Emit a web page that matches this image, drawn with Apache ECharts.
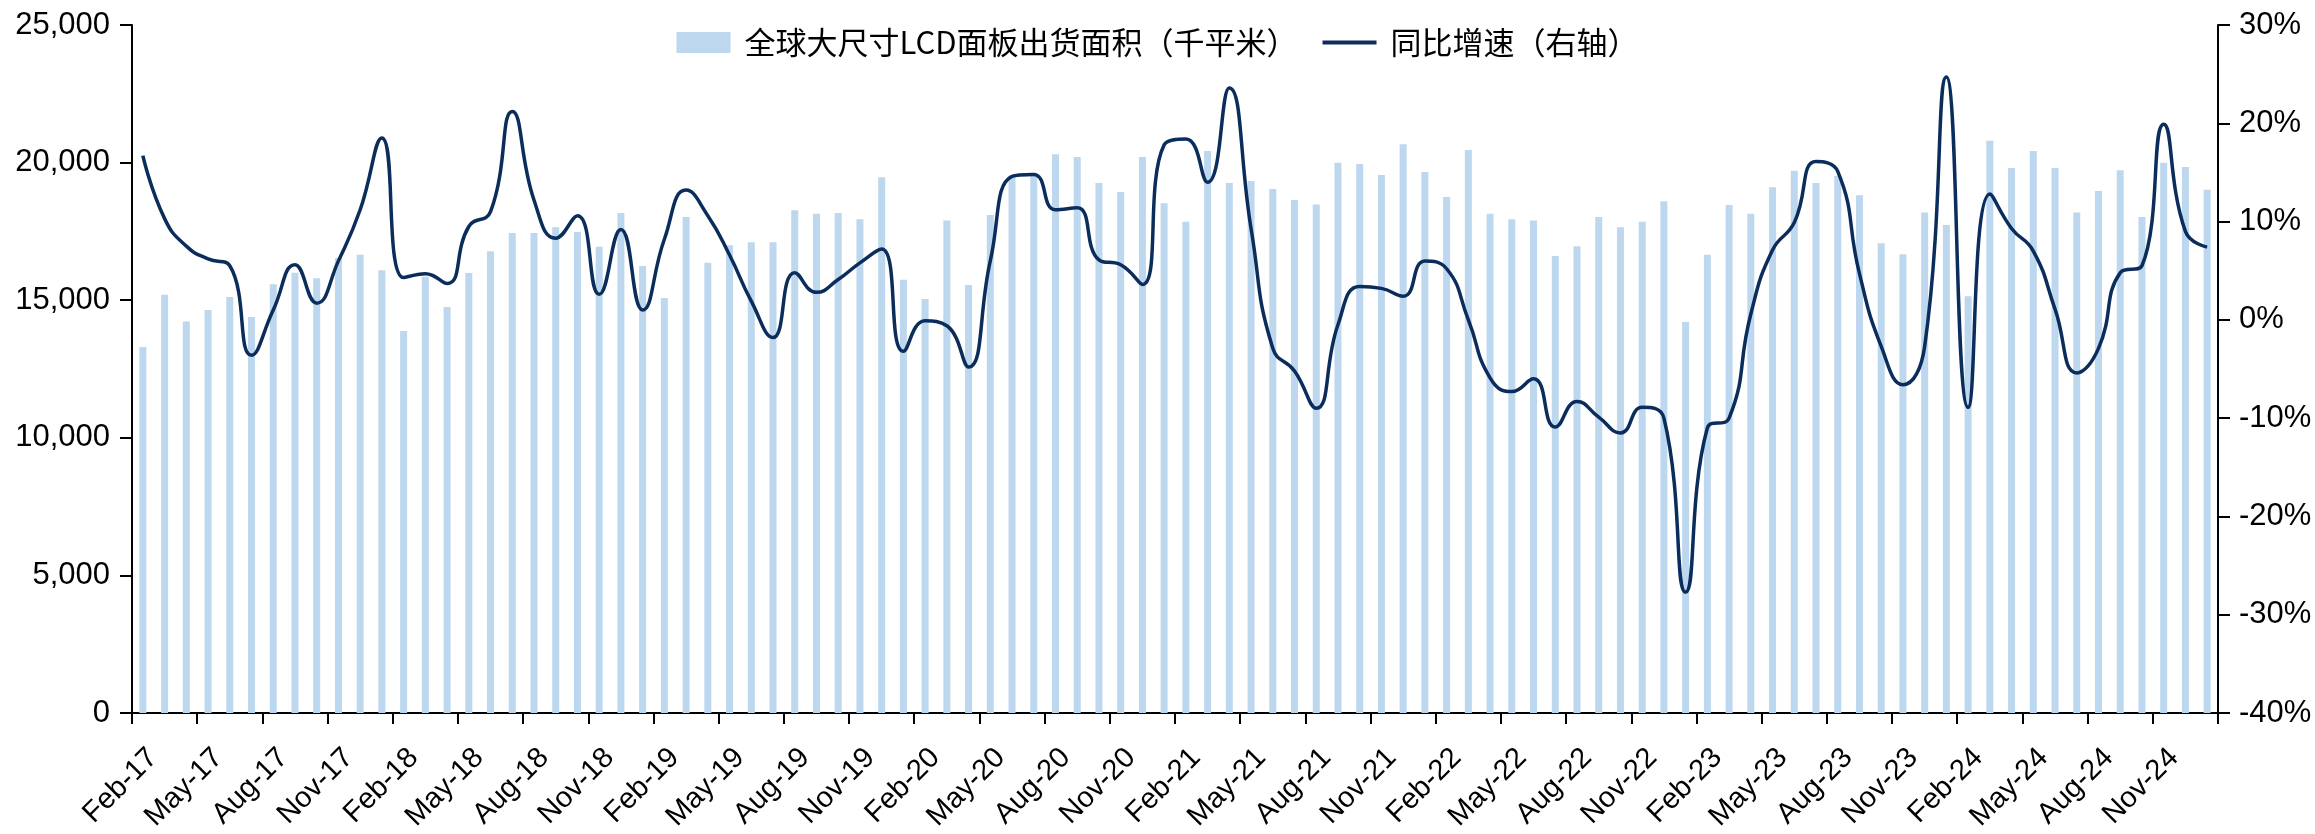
<!DOCTYPE html>
<html>
<head>
<meta charset="utf-8">
<title>全球大尺寸LCD面板出货面积</title>
<script src="https://cdn.jsdelivr.net/npm/echarts@6/dist/echarts.min.js"></script>
<style>
  html, body { margin: 0; padding: 0; background: #fff; }
  #main { width: 2315px; height: 834px; }
</style>
</head>
<body>
<div id="main"></div>
<script>
// 月份：Feb-17 ~ Jan-25
var monthNames = ['Jan', 'Feb', 'Mar', 'Apr', 'May', 'Jun', 'Jul', 'Aug', 'Sep', 'Oct', 'Nov', 'Dec'];
var months = [];
for (var k = 0; k < 96; k++) {
  var m = (1 + k) % 12;
  var y = 17 + Math.floor((1 + k) / 12);
  months.push(monthNames[m] + '-' + y);
}

// 全球大尺寸LCD面板出货面积（千平米）
var shipArea = [
  13300, 15200, 14230, 14640, 15120, 14390, 15580, 16000, 15800, 16530, 16650, 16090,
  13880, 15850, 14750, 15990, 16780, 17440, 17440, 17650, 17480, 16940, 18170, 16240,
  15080, 18020, 16360, 17000, 17110, 17110, 18270, 18140, 18170, 17940, 19470, 15740,
  15040, 17900, 15550, 18100, 19530, 19630, 20300, 20200, 19260, 18930, 20200, 18520,
  17850, 20420, 19260, 19330, 19040, 18640, 18480, 19990, 19950, 19550, 20670, 19660,
  18750, 20460, 18140, 17940, 17900, 16610, 16960, 18020, 17650, 17850, 18600, 14210,
  16650, 18460, 18140, 19100, 19700, 19260, 19510, 18810, 17070, 16670, 18190, 17730,
  15140, 20790, 19800, 20420, 19800, 18190, 18970, 19720, 18020, 19990, 19840, 19010
];

// 同比增速（%）
var yoy = [
  16.7, 10.3, 7.5, 6.2, 5.5, -3.6, 1.0, 5.6, 1.7, 6.0, 11.2, 18.5,
  4.3, 4.7, 3.7, 9.5, 11.0, 21.2, 12.2, 8.3, 10.6, 2.6, 9.2, 1.0,
  8.2, 13.2, 10.6, 6.6, 1.9, -1.8, 4.8, 2.8, 4.1, 5.8, 7.2, -3.2,
  -0.1, -0.6, -4.8, 6.0, 14.6, 14.8, 11.2, 11.4, 6.1, 5.6, 3.6, 17.8,
  18.4, 14.0, 23.6, 9.3, -2.9, -5.2, -9.0, -0.5, 3.4, 3.2, 2.4, 6.0,
  5.2, 0.0, -5.9, -7.3, -6.0, -10.9, -8.3, -9.9, -11.5, -8.9, -10.0, -27.7,
  -11.0, -10.0, 0.6, 7.1, 9.9, 16.1, 15.1, 4.7, -2.7, -6.6, -2.7, 24.7,
  -8.9, 12.8, 9.3, 7.0, 1.1, -5.4, -2.9, 4.8, 5.5, 19.9, 9.0, 7.4
];

var leftTicks = { min: 0, max: 25000, interval: 5000 };
var rightTicks = { min: -40, max: 30, interval: 10 };

var numFont = 'Liberation Sans, Arial, sans-serif';
var cjkFont = 'Noto Sans CJK SC, sans-serif';
var axisBlack = { color: '#000', width: 2 };
var lineColor = '#0B2D5B';

function withComma(v) {
  return String(v).replace(/\B(?=(\d{3})+(?!\d))/g, ',');
}

var myChart = echarts.init(document.getElementById('main'));
myChart.setOption({
  animation: false,
  legend: {
    top: 22,
    left: 'center',
    itemWidth: 54,
    itemHeight: 21,
    itemGap: 25,
    textStyle: {
      fontFamily: cjkFont,
      fontSize: 31,
      color: '#000',
      padding: [0, 0, 0, 9]
    },
    data: [
      { name: '全球大尺寸LCD面板出货面积（千平米）', icon: 'rect' },
      { name: '同比增速（右轴）', icon: 'path://M0,0 L54,0 L54,4 L0,4 Z' }
    ]
  },
  grid: {
    left: 132,
    right: 97,
    top: 25,
    bottom: 121
  },
  xAxis: {
    type: 'category',
    data: months,
    boundaryGap: true,
    axisLine: { lineStyle: axisBlack },
    axisTick: {
      show: true,
      alignWithLabel: false,
      interval: 2,
      length: 11,
      lineStyle: axisBlack
    },
    axisLabel: {
      interval: 2,
      rotate: 45,
      margin: 30,
      align: 'right',
      verticalAlign: 'top',
      fontFamily: numFont,
      fontSize: 29,
      color: '#000'
    },
    splitLine: { show: false }
  },
  yAxis: [
    {
      type: 'value',
      min: leftTicks.min,
      max: leftTicks.max,
      interval: leftTicks.interval,
      axisLine: { show: true, lineStyle: axisBlack },
      axisTick: { show: true, length: 12, lineStyle: axisBlack },
      axisLabel: {
        margin: 22,
        fontFamily: numFont,
        fontSize: 31,
        color: '#000',
        formatter: withComma
      },
      splitLine: { show: false }
    },
    {
      type: 'value',
      min: rightTicks.min,
      max: rightTicks.max,
      interval: rightTicks.interval,
      axisLine: { show: true, lineStyle: axisBlack },
      axisTick: { show: true, length: 12, lineStyle: axisBlack },
      axisLabel: {
        margin: 21,
        fontFamily: numFont,
        fontSize: 31,
        color: '#000',
        formatter: '{value}%'
      },
      splitLine: { show: false }
    }
  ],
  series: [
    {
      name: '全球大尺寸LCD面板出货面积（千平米）',
      type: 'bar',
      yAxisIndex: 0,
      barWidth: 7,
      itemStyle: { color: '#BDD7EE' },
      data: shipArea
    },
    {
      name: '同比增速（右轴）',
      type: 'line',
      yAxisIndex: 1,
      smooth: 0.5,
      symbol: 'none',
      lineStyle: { color: lineColor, width: 3.5 },
      itemStyle: { color: lineColor },
      data: yoy
    }
  ]
});
</script>
</body>
</html>
